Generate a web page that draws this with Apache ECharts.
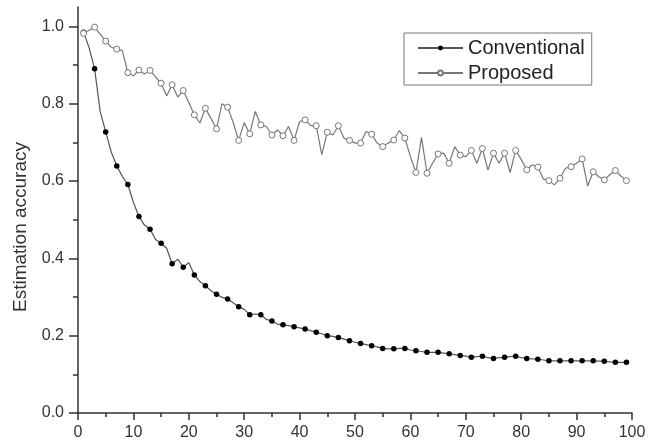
<!DOCTYPE html>
<html>
<head>
<meta charset="utf-8">
<script src="https://cdn.jsdelivr.net/npm/echarts@6/dist/echarts.min.js"></script>
<style>
  html, body { margin: 0; padding: 0; background: #fff; }
  #main { width: 655px; height: 443px; }
</style>
</head>
<body>
<div id="main"></div>
<script>
// iteration numbers 1..99
var iterations = [];
for (var i = 1; i <= 99; i++) iterations.push(i);

var conventional = [
  0.985, 0.945, 0.890, 0.780, 0.727, 0.675, 0.639, 0.612, 0.591, 0.545,
  0.508, 0.486, 0.475, 0.449, 0.439, 0.426, 0.386, 0.398, 0.377, 0.389,
  0.357, 0.340, 0.329, 0.316, 0.307, 0.299, 0.295, 0.285, 0.275, 0.268,
  0.254, 0.256, 0.254, 0.242, 0.238, 0.230, 0.228, 0.226, 0.223, 0.220,
  0.217, 0.213, 0.209, 0.205, 0.200, 0.198, 0.195, 0.191, 0.187, 0.183,
  0.180, 0.177, 0.174, 0.171, 0.167, 0.166, 0.166, 0.167, 0.167, 0.163,
  0.161, 0.159, 0.157, 0.157, 0.157, 0.155, 0.153, 0.151, 0.149, 0.147,
  0.144, 0.146, 0.147, 0.143, 0.141, 0.143, 0.144, 0.146, 0.147, 0.143,
  0.141, 0.140, 0.139, 0.137, 0.135, 0.135, 0.135, 0.135, 0.135, 0.135,
  0.135, 0.135, 0.135, 0.134, 0.134, 0.132, 0.131, 0.131, 0.131
];

var proposed = [
  0.982, 0.990, 0.998, 0.980, 0.962, 0.946, 0.941, 0.937, 0.880, 0.872,
  0.887, 0.877, 0.886, 0.869, 0.853, 0.820, 0.849, 0.817, 0.834, 0.803,
  0.771, 0.750, 0.788, 0.762, 0.735, 0.800, 0.791, 0.752, 0.705, 0.751,
  0.722, 0.780, 0.745, 0.741, 0.719, 0.732, 0.717, 0.741, 0.705, 0.754,
  0.758, 0.743, 0.743, 0.668, 0.726, 0.719, 0.743, 0.711, 0.705, 0.698,
  0.698, 0.728, 0.721, 0.698, 0.689, 0.698, 0.706, 0.730, 0.711, 0.663,
  0.622, 0.713, 0.620, 0.646, 0.670, 0.672, 0.646, 0.689, 0.667, 0.663,
  0.679, 0.646, 0.684, 0.628, 0.672, 0.646, 0.672, 0.622, 0.679, 0.656,
  0.629, 0.642, 0.636, 0.605, 0.601, 0.590, 0.607, 0.633, 0.637, 0.646,
  0.657, 0.587, 0.624, 0.611, 0.603, 0.616, 0.627, 0.613, 0.601
];

var yTicks = [0, 0.2, 0.4, 0.6, 0.8, 1.0];
var yMinorTicks = [0.1, 0.3, 0.5, 0.7, 0.9];

function pairs(ys) {
  return iterations.map(function (x, k) { return [x, ys[k]]; });
}
// a marker on every second point
function markerSize(size) {
  return function (v, p) { return p.dataIndex % 2 === 0 ? size : 0; };
}

var FONT = 'Liberation Sans';
var axisColor = '#333';

var chart = echarts.init(document.getElementById('main'));
chart.setOption({
  animation: false,
  backgroundColor: '#fff',
  textStyle: { fontFamily: FONT },
  grid: { left: 78, right: 23, top: 7, bottom: 30, outerBoundsMode: 'none' },
  legend: {
    orient: 'vertical',
    left: 404,
    top: 33,
    padding: [5, 7, 2, 13],
    itemGap: 5,
    itemWidth: 45,
    itemHeight: 6,
    borderColor: '#777',
    borderWidth: 1,
    textStyle: { fontFamily: FONT, fontSize: 20, color: '#222' },
    data: ['Conventional', 'Proposed']
  },
  xAxis: {
    type: 'value',
    min: 0,
    max: 100,
    interval: 10,
    axisLine: { lineStyle: { color: axisColor, width: 1.5 } },
    axisTick: { length: 7, lineStyle: { color: axisColor, width: 1.5 } },
    minorTick: { show: true, splitNumber: 2, length: 4, lineStyle: { color: axisColor, width: 1.5 } },
    axisLabel: { fontFamily: FONT, fontSize: 16, color: '#333', margin: 12 },
    splitLine: { show: false }
  },
  yAxis: [{
    type: 'value',
    min: 0,
    max: 1.05,
    name: 'Estimation accuracy',
    nameLocation: 'middle',
    nameGap: 48,
    nameTextStyle: { fontFamily: FONT, fontSize: 19, color: '#333', padding: [0, 34, 0, 0] },
    axisLine: { show: true, lineStyle: { color: axisColor, width: 1.5 } },
    axisTick: { show: true, length: 9, customValues: yTicks, lineStyle: { color: axisColor, width: 1.5 } },
    axisLabel: {
      fontFamily: FONT, fontSize: 16, color: '#333', margin: 14,
      customValues: yTicks,
      formatter: function (v) { return v.toFixed(1); }
    },
    splitLine: { show: false }
  }, {
    type: 'value',
    min: 0,
    max: 1.05,
    position: 'left',
    axisLine: { show: false },
    axisTick: { show: true, length: 5, customValues: yMinorTicks, lineStyle: { color: axisColor, width: 1.5 } },
    axisLabel: { show: false },
    splitLine: { show: false }
  }],
  series: [{
    name: 'Conventional',
    type: 'line',
    data: pairs(conventional),
    showAllSymbol: true,
    symbol: 'circle',
    symbolSize: markerSize(5.5),
    lineStyle: { color: '#555', width: 1.2 },
    itemStyle: { color: '#000' }
  }, {
    name: 'Proposed',
    type: 'line',
    data: pairs(proposed),
    showAllSymbol: true,
    symbol: 'circle',
    symbolSize: markerSize(6),
    lineStyle: { color: '#777', width: 1.2 },
    itemStyle: { color: '#fff', borderColor: '#777', borderWidth: 1 }
  }]
});
</script>
</body>
</html>
